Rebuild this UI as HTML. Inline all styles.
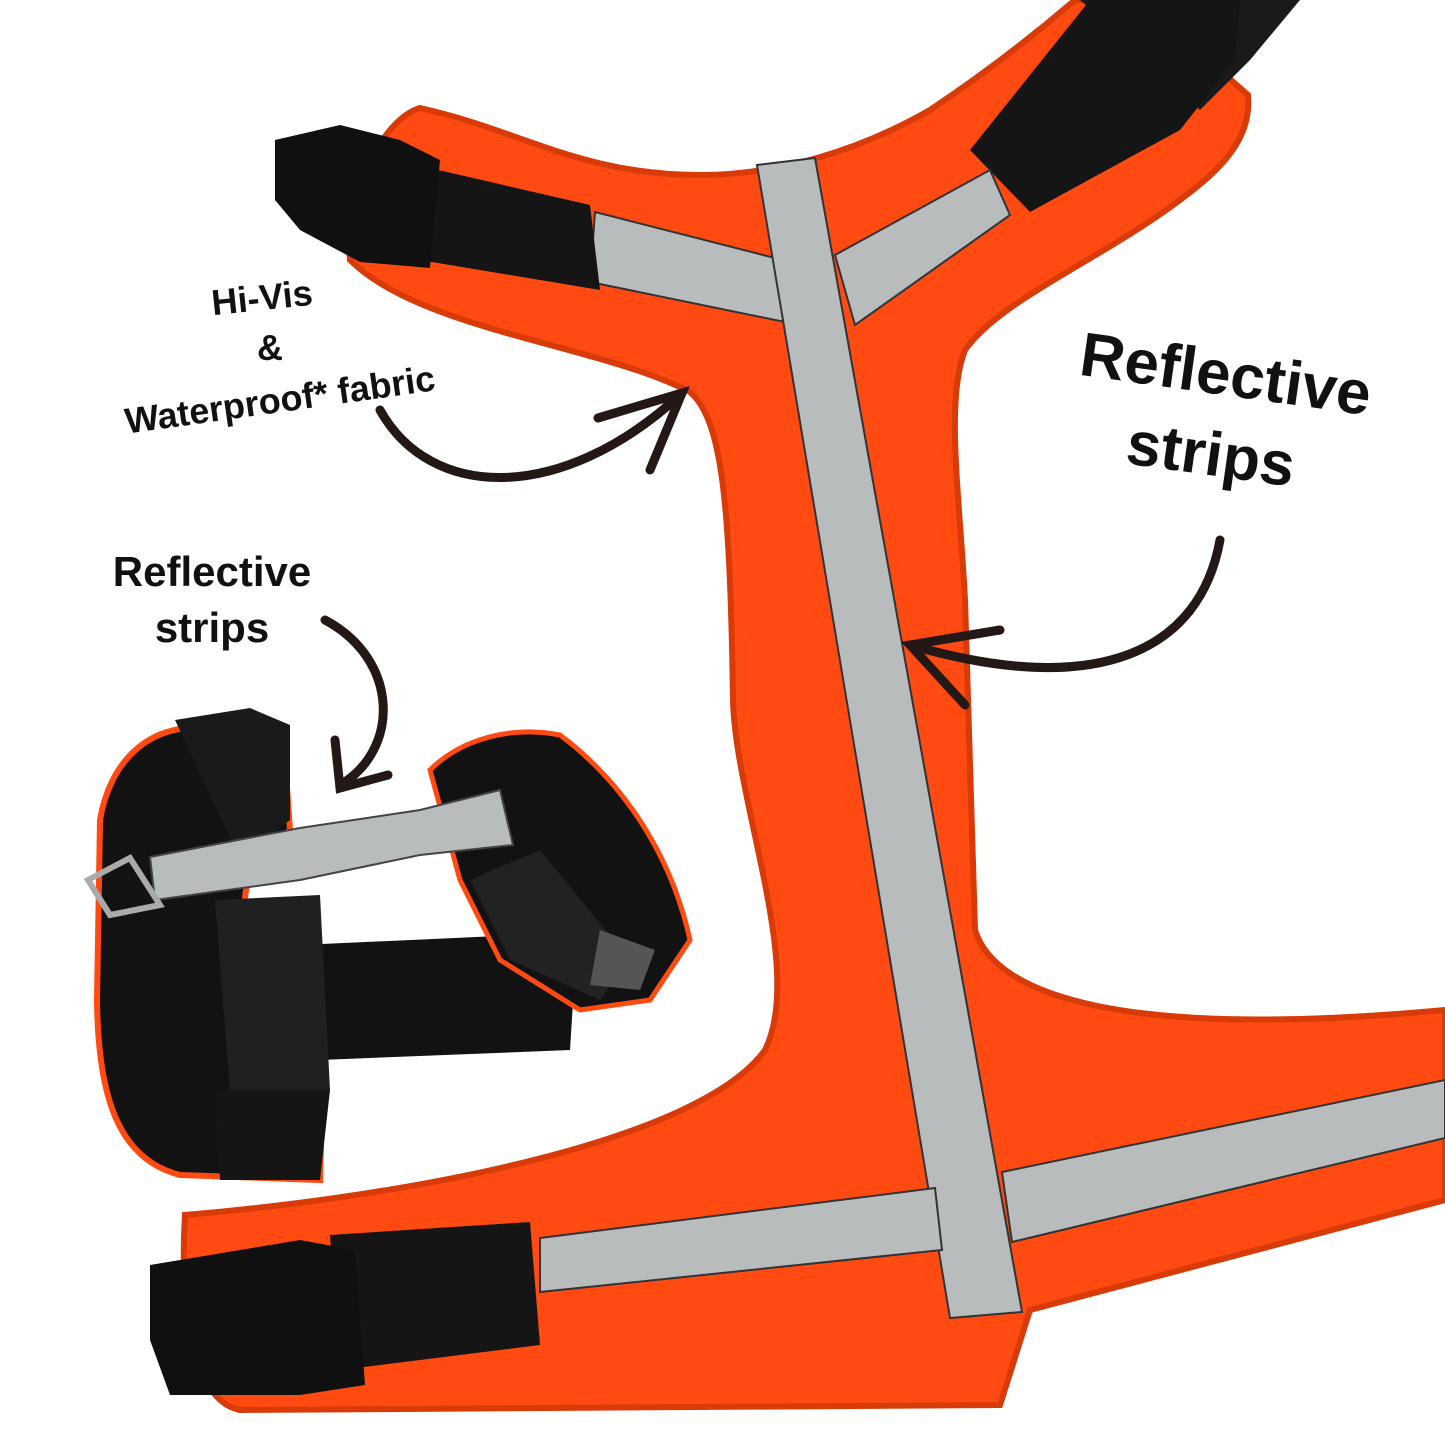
<!DOCTYPE html>
<html><head><meta charset="utf-8"><style>
html,body{margin:0;padding:0;background:#fff}
svg{display:block}
text{font-family:"Liberation Sans",sans-serif;font-weight:bold;fill:#111}
</style></head><body>
<svg width="1445" height="1445" viewBox="0 0 1445 1445" xmlns="http://www.w3.org/2000/svg">
<rect width="1445" height="1445" fill="#fff"/>
<!-- main harness -->
<path d="M350,260 C345,200 380,120 420,108 C520,130 580,175 700,175 C780,175 860,150 930,110 C990,70 1040,30 1075,0 L1140,0 L1248,95 C1252,140 1220,170 1180,200 C1100,260 1000,300 965,350 C945,400 960,500 965,600 L975,930 C995,995 1120,1040 1445,1010 L1445,1200 L1030,1310 L1000,1405 L240,1410 C190,1400 180,1300 185,1215 C420,1195 700,1140 765,1050 C805,970 735,800 733,700 C730,500 722,420 690,392 C600,345 420,330 350,260 Z" fill="#ff4a12" stroke="#d83a08" stroke-width="6"/>
<!-- top right strap -->
<path d="M1080,0 L1300,0 L1250,60 L1200,110 Z" fill="#1a1a1a"/>
<path d="M970,150 L1090,0 L1240,0 L1235,60 L1180,130 L1030,212 Z" fill="#151515"/>
<!-- reflective strips -->
<g fill="#b9bcbd" stroke="#333" stroke-width="2">
<polygon points="595,212 775,258 785,322 590,282"/>
<polygon points="835,255 990,170 1010,215 855,325"/>
<polygon points="757,165 815,158 1022,1312 950,1318"/>
<polygon points="540,1238 935,1188 942,1250 540,1292"/>
<polygon points="1002,1172 1445,1080 1445,1138 1012,1242"/>
</g>
<!-- top-left buckle & strap -->
<path d="M395,160 L590,205 L600,290 L390,255 Z" fill="#151515"/>
<path d="M275,140 L340,125 L400,140 L440,160 L430,268 L360,262 L300,230 L275,200 Z" fill="#101010"/>
<!-- bottom-left buckle & strap -->
<path d="M330,1235 L530,1222 L540,1345 L340,1370 Z" fill="#151515"/>
<path d="M150,1265 L300,1240 L355,1250 L365,1385 L300,1395 L170,1395 L150,1340 Z" fill="#101010"/>
<!-- small inset harness -->
<path d="M100,820 C110,760 150,725 200,728 L240,740 L285,760 L290,830 C240,870 240,900 250,935 L300,950 L325,1000 L320,1180 L180,1175 C120,1160 98,1100 97,1000 Z" fill="#121212" stroke="#ff4a12" stroke-width="6"/>
<path d="M175,720 L250,708 L290,725 L290,820 L240,860 Z" fill="#1a1a1a"/>
<path d="M300,945 L520,935 L575,970 L570,1050 L320,1060 Z" fill="#121212"/>
<path d="M430,770 C460,740 510,725 560,735 C620,780 670,850 690,940 L650,1000 L580,1010 L500,960 L460,880 Z" fill="#121212" stroke="#ff4a12" stroke-width="5"/>
<path d="M470,880 L540,850 L630,960 L600,1000 L510,960 Z" fill="#222"/>
<path d="M600,930 L655,950 L640,990 L590,985 Z" fill="#555"/>
<path d="M215,900 L320,895 L330,1090 L230,1090 Z" fill="#202020"/>
<path d="M215,1090 L330,1090 L320,1180 L220,1180 Z" fill="#151515"/>
<polygon points="150,857 300,828 420,810 500,790 513,845 420,855 300,880 155,900" fill="#b9bcbd" stroke="#444" stroke-width="2"/>
<path d="M88,880 L130,858 L160,905 L110,915 Z" fill="none" stroke="#aaa" stroke-width="6"/>
<!-- arrows -->
<g fill="none" stroke="#231815" stroke-width="9" stroke-linecap="round">
<path d="M380,410 C430,500 560,505 680,395"/>
<path d="M598,418 L682,393 L650,470"/>
<path d="M1220,540 C1200,650 1100,700 910,645"/>
<path d="M1000,630 L910,645 L965,705"/>
<path d="M325,620 C400,660 400,750 340,785"/>
<path d="M388,775 L340,788 L335,740"/>
</g>
<!-- texts -->
<text x="262" y="310" font-size="36" text-anchor="middle" transform="rotate(-6 262 298)">Hi-Vis</text>
<text x="270" y="360" font-size="36" text-anchor="middle">&amp;</text>
<text x="280" y="412" font-size="36" text-anchor="middle" transform="rotate(-8 280 400)">Waterproof* fabric</text>
<text x="1225" y="395" font-size="62" text-anchor="middle" transform="rotate(8 1225 380)">Reflective</text>
<text x="1210" y="475" font-size="62" text-anchor="middle" transform="rotate(8 1210 460)">strips</text>
<text x="212" y="586" font-size="42" text-anchor="middle">Reflective</text>
<text x="212" y="642" font-size="42" text-anchor="middle">strips</text>
</svg>
</body></html>
